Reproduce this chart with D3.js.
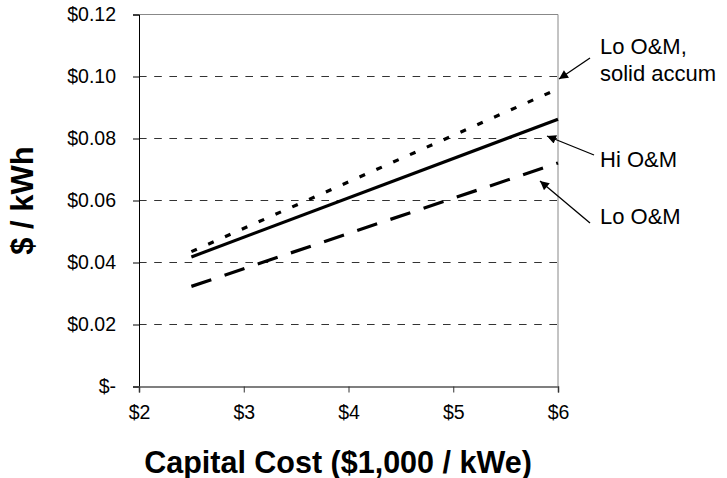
<!DOCTYPE html>
<html>
<head>
<meta charset="utf-8">
<script src="https://cdn.jsdelivr.net/npm/d3@7"></script>
<style>
  html, body { margin: 0; padding: 0; background: #fff; }
  svg { display: block; font-family: Arial, "Liberation Sans", sans-serif; }
</style>
</head>
<body>
<svg id="chart" width="727" height="478"></svg>
<script>
// Levelized cost of electricity vs. capital cost, three O&M scenarios
const capitalCost = [2.5, 6];              // $1,000 / kWe
const loOMSolid   = [0.0435, 0.0960];      // Lo O&M, solid accum ($/kWh)
const hiOM        = [0.0418, 0.0862];      // Hi O&M
const loOM        = [0.0323, 0.0721];      // Lo O&M

const xTicks = [2, 3, 4, 5, 6];
const yTicks = [0, 0.02, 0.04, 0.06, 0.08, 0.10, 0.12];

const xTitle = "Capital Cost ($1,000 / kWe)";
const yTitle = "$ / kWh";

// Callout labels and the series each one points to
const callouts = [
  { lines: ["Lo O&M,", "solid accum"], series: "loOMSolid" },
  { lines: ["Hi O&M"], series: "hiOM" },
  { lines: ["Lo O&M"], series: "loOM" }
];

const series = [
  { key: "loOMSolid", values: loOMSolid, dash: "6,12.4" },
  { key: "hiOM",      values: hiOM,      dash: null },
  { key: "loOM",      values: loOM,      dash: "21,14" }
];

const svg = d3.select("#chart");
const margin = { left: 139, right: 169, top: 14.5, bottom: 91.5 };
const W = 727, H = 478;

const x = d3.scaleLinear().domain([2, 6]).range([margin.left, W - margin.right]);
const y = d3.scaleLinear().domain([0, 0.12]).range([H - margin.bottom, margin.top]);

// arrow marker
svg.append("defs").append("marker")
  .attr("id", "arrow")
  .attr("viewBox", "0 0 10 10")
  .attr("refX", 10).attr("refY", 5)
  .attr("markerWidth", 10).attr("markerHeight", 9)
  .attr("markerUnits", "userSpaceOnUse")
  .attr("orient", "auto")
  .append("path")
  .attr("d", "M0,0 L10,5 L0,10 z")
  .attr("fill", "#000");

// dashed horizontal gridlines
svg.append("g").selectAll("line")
  .data(yTicks.filter(d => d > 0 && d < 0.12))
  .join("line")
  .attr("x1", x(2)).attr("x2", x(6))
  .attr("y1", d => y(d)).attr("y2", d => y(d))
  .attr("stroke", "#333").attr("stroke-width", 1)
  .attr("stroke-dasharray", "7.6,7.6");

// plot-area frame (top and right)
svg.append("path")
  .attr("d", `M${x(2)},${y(0.12)} H${x(6)} V${y(0)}`)
  .attr("fill", "none").attr("stroke", "#888").attr("stroke-width", 1);

// y axis
const yAxis = d3.axisLeft(y)
  .tickValues(yTicks)
  .tickSize(6)
  .tickPadding(17)
  .tickFormat(d => d === 0 ? "$-" : "$" + d3.format(".2f")(d));
const gy = svg.append("g").attr("transform", `translate(${x(2)},0)`).call(yAxis);
gy.select(".domain").attr("stroke", "#000").attr("stroke-width", 1);
gy.selectAll(".tick line").attr("stroke", "#000");
gy.selectAll(".tick text")
  .attr("font-size", 19.5).attr("fill", "#000")
  .attr("font-family", "Arial, 'Liberation Sans', sans-serif");

// x axis
const xAxis = d3.axisBottom(x)
  .tickValues(xTicks)
  .tickSize(6)
  .tickPadding(13)
  .tickFormat(d => "$" + d);
const gx = svg.append("g").attr("transform", `translate(0,${y(0)})`).call(xAxis);
gx.select(".domain").attr("stroke", "#555").attr("stroke-width", 1.6);
gx.selectAll(".tick line").attr("stroke", "#333");
gx.selectAll(".tick text")
  .attr("font-size", 19.5).attr("fill", "#000")
  .attr("font-family", "Arial, 'Liberation Sans', sans-serif");

// series lines
const line = d3.line().x(d => x(d[0])).y(d => y(d[1]));
svg.append("g").selectAll("path")
  .data(series)
  .join("path")
  .attr("d", s => line(capitalCost.map((c, i) => [c, s.values[i]])))
  .attr("fill", "none")
  .attr("stroke", "#000")
  .attr("stroke-width", 3.2)
  .attr("stroke-dasharray", s => s.dash);

// axis titles
svg.append("text")
  .attr("x", 338).attr("y", 473)
  .attr("text-anchor", "middle")
  .attr("font-size", 30.5).attr("font-weight", "bold")
  .text(xTitle);

svg.append("text")
  .attr("transform", `translate(33,${(y(0) + y(0.12)) / 2}) rotate(-90)`)
  .attr("text-anchor", "middle")
  .attr("font-size", 31).attr("font-weight", "bold")
  .text(yTitle);

// callouts with arrows
const calloutPos = [
  { tx: 600, ty: 54, from: [590, 58], to: [559, 79] },
  { tx: 600, ty: 167, from: [594, 155], to: [547, 136] },
  { tx: 600, ty: 224, from: [590, 223], to: [540, 181] }
];
const cg = svg.append("g");
callouts.forEach((c, i) => {
  const p = calloutPos[i];
  const t = cg.append("text")
    .attr("x", p.tx).attr("y", p.ty)
    .attr("font-size", 22);
  c.lines.forEach((ln, j) => {
    t.append("tspan").attr("x", p.tx).attr("dy", j === 0 ? 0 : 27).text(ln);
  });
  cg.append("line")
    .attr("x1", p.from[0]).attr("y1", p.from[1])
    .attr("x2", p.to[0]).attr("y2", p.to[1])
    .attr("stroke", "#000").attr("stroke-width", 1.3)
    .attr("marker-end", "url(#arrow)");
});
</script>
</body>
</html>
